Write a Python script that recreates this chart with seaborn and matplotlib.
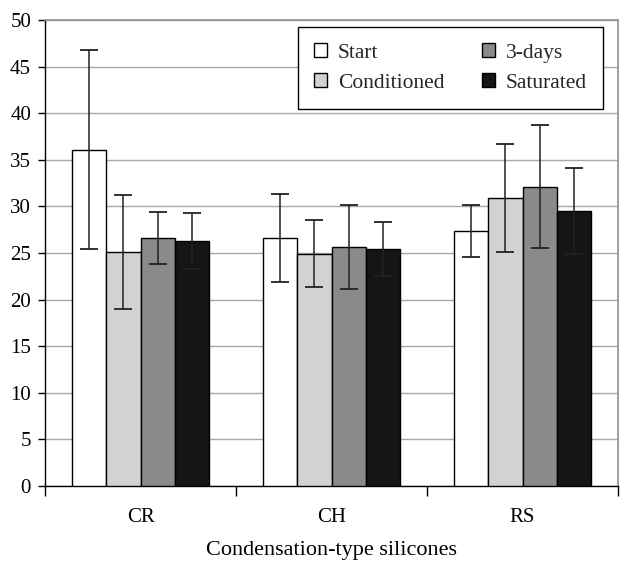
import matplotlib
matplotlib.use("Agg")
import matplotlib.pyplot as plt
import seaborn as sns
import pandas as pd
import numpy as np

categories = ["CR", "CH", "RS"]
series = ["Start", "Conditioned", "3-days", "Saturated"]
start = [36.1, 26.6, 27.4]
conditioned = [25.1, 24.9, 30.9]
three_days = [26.6, 25.6, 32.1]
saturated = [26.3, 25.4, 29.5]
start_err = [10.7, 4.7, 2.8]
conditioned_err = [6.1, 3.6, 5.8]
three_days_err = [2.8, 4.5, 6.6]
saturated_err = [3.0, 2.9, 4.6]

values = [start, conditioned, three_days, saturated]
errors = [start_err, conditioned_err, three_days_err, saturated_err]
colors = ["#ffffff", "#d2d2d4", "#8a8a8a", "#151515"]

rows = []
for s, vals, errs in zip(series, values, errors):
    for c, v, e in zip(categories, vals, errs):
        rows.append({"cat": c, "series": s, "value": v, "err": e})
df = pd.DataFrame(rows)

sns.set_style("white")
plt.rcParams["font.family"] = ["Liberation Serif", "DejaVu Serif"]

fig = plt.figure(figsize=(6.22, 5.64), dpi=100)
ax = fig.add_axes([45 / 622, 1 - 486 / 564, (618 - 45) / 622, (486 - 20) / 564])

sns.barplot(data=df, x="cat", y="value", hue="series", order=categories,
            hue_order=series, palette=colors, edgecolor="black", linewidth=1.0,
            width=0.72, errorbar=None, ax=ax, zorder=3)

# error bars placed on bar patches
for s_idx, (cont, errs) in enumerate(zip(ax.containers, errors)):
    for bar, e in zip(cont.patches, errs):
        x = bar.get_x() + bar.get_width() / 2
        y = bar.get_height()
        ax.errorbar(x, y, yerr=e, fmt="none", ecolor="#222222", elinewidth=1.1,
                    capsize=6.5, capthick=1.3, zorder=4)

ax.set_ylim(0, 50)
ax.set_xlim(-0.5, 2.5)
ax.set_yticks(range(0, 51, 5))
ax.yaxis.grid(True, color="#a8a8a8", linewidth=1.0, zorder=0)
ax.set_axisbelow(True)

for side in ["top", "right"]:
    ax.spines[side].set_color("#909090")
    ax.spines[side].set_linewidth(1.2)
for side in ["left", "bottom"]:
    ax.spines[side].set_color("black")
    ax.spines[side].set_linewidth(1.0)

ax.tick_params(axis="y", which="major", direction="out", length=5, width=1,
               color="black", labelsize=15, left=True, pad=5, labelcolor="black")
ax.tick_params(axis="x", which="major", length=0, labelsize=15, pad=16,
               labelcolor="black")
ax.set_xticks([-0.5, 0.5, 1.5, 2.5], minor=True)
ax.tick_params(axis="x", which="minor", direction="out", length=7, width=1,
               color="black", bottom=True)

ax.set_xlabel("Condensation-type silicones", fontsize=16, labelpad=10,
              color="black")
ax.set_ylabel("")

handles, labels = ax.get_legend_handles_labels()
leg = ax.legend(handles, labels, ncol=2, loc="upper right",
                bbox_to_anchor=((603 - 45) / 573, (486 - 27) / 466),
                borderaxespad=0, fontsize=15.5, frameon=True,
                fancybox=False, edgecolor="black", framealpha=1,
                handlelength=0.6, handleheight=0.6, handletextpad=0.5,
                columnspacing=1.75, borderpad=0.75, labelspacing=0.5)
leg.get_frame().set_linewidth(1.0)

fig.savefig("out.png", dpi=100)
